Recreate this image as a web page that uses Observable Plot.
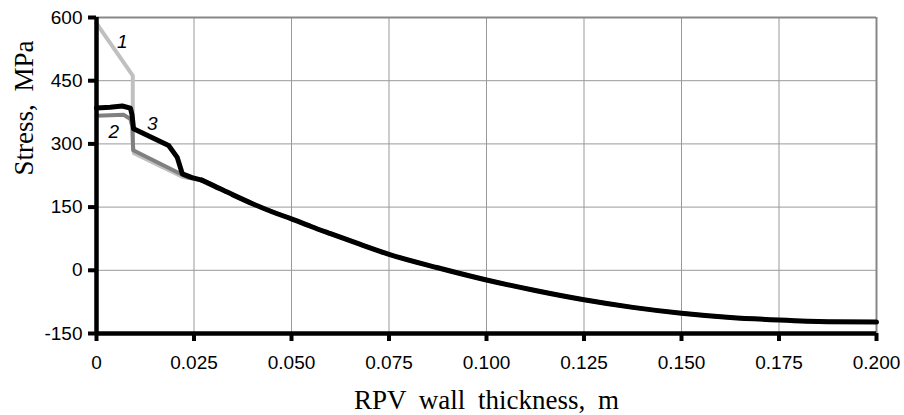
<!DOCTYPE html>
<html>
<head>
<meta charset="utf-8">
<script src="https://cdn.jsdelivr.net/npm/d3@7"></script>
<script src="https://cdn.jsdelivr.net/npm/@observablehq/plot@0.6"></script>
<style>
  html, body { margin: 0; padding: 0; background: #fff; }
  svg text { word-spacing: 6px; }
</style>
</head>
<body>
<div id="chart"></div>
<script>
// ---- Data ----
const xTicks = [0, 0.025, 0.05, 0.075, 0.1, 0.125, 0.15, 0.175, 0.2];
const yTicks = [-150, 0, 150, 300, 450, 600];

// shared smooth tail of all three curves
const tailX = [0.027, 0.030, 0.035, 0.040, 0.045, 0.050, 0.055, 0.060, 0.0675, 0.075, 0.0875, 0.100, 0.1125, 0.125, 0.1375, 0.150, 0.1625, 0.175, 0.1875, 0.200];
const tailY = [214, 201, 179, 158, 139, 122, 104, 87, 62, 38, 6, -23, -48, -70, -88, -102, -112, -118, -122, -123];

// curve 1 (light gray)
const head1X = [0, 0.0093, 0.0093, 0.0096, 0.022, 0.0245];
const head1Y = [586, 462, 300, 278, 222, 218];
// curve 2 (mid gray)
const head2X = [0, 0.007, 0.0087, 0.0092, 0.0094, 0.0215, 0.0233];
const head2Y = [367, 369, 359, 340, 285, 229, 221];
// curve 3 (black)
const head3X = [0, 0.0035, 0.0066, 0.0087, 0.0091, 0.0095, 0.0185, 0.0207, 0.022, 0.0245];
const head3Y = [385, 387, 390, 385, 370, 336, 296, 268, 229, 220];

const curveNames = ["1", "2", "3"];
const labelX = [0.0066, 0.0044, 0.0143];
const labelY = [541, 328, 347];

const xLabel = "RPV wall thickness, m";
const yLabel = "Stress, MPa";

// ---- build tables ----
const tail = tailX.map((x, i) => ({x, y: tailY[i]}));
function head(hx, hy) {
  return hx.map((x, i) => ({x, y: hy[i]})).concat([tail[0]]);
}
const h1 = head(head1X, head1Y);
const h2 = head(head2X, head2Y);
const h3 = head(head3X, head3Y);
const labels = curveNames.map((t, i) => ({t, x: labelX[i], y: labelY[i]}));

const serif = "'Liberation Serif', 'Times New Roman', serif";
const styles = [
  {stroke: "#c0c0c0", strokeWidth: 4},
  {stroke: "#808080", strokeWidth: 4},
  {stroke: "#000", strokeWidth: 5}
];
const heads = [h1, h2, h3];
const curveMarks = [];
heads.forEach((h, i) => {
  curveMarks.push(Plot.line(h, {x: "x", y: "y", ...styles[i], strokeLinejoin: "round", strokeLinecap: "round"}));
  curveMarks.push(Plot.line(tail, {x: "x", y: "y", ...styles[i], curve: "monotone-x", strokeLinecap: "round"}));
});

const chart = Plot.plot({
  width: 904,
  height: 415,
  marginLeft: 96,
  marginRight: 28,
  marginTop: 17,
  marginBottom: 82,
  style: {fontFamily: "'Liberation Sans', Arial, sans-serif", fontSize: "19px", background: "#fff", overflow: "visible"},
  x: {domain: [0, 0.2]},
  y: {domain: [-150, 600]},
  marks: [
    Plot.gridX(xTicks, {stroke: "#999", strokeOpacity: 1, strokeWidth: 1}),
    Plot.gridY(yTicks, {stroke: "#999", strokeOpacity: 1, strokeWidth: 1}),
    Plot.ruleY([600], {stroke: "#888", strokeWidth: 2}),
    Plot.ruleX([0.2], {stroke: "#888", strokeWidth: 2}),
    ...curveMarks,
    Plot.ruleX([0], {stroke: "#000", strokeWidth: 4.5}),
    Plot.ruleY([-150], {stroke: "#000", strokeWidth: 4.5}),
    Plot.axisX(xTicks, {anchor: "bottom", tickSize: 8, tickPadding: 14, strokeWidth: 4, label: null,
      tickFormat: d => d === 0 ? "0" : d.toFixed(3)}),
    Plot.axisY(yTicks, {anchor: "left", tickSize: 8, tickPadding: 6, strokeWidth: 4, label: null,
      tickFormat: d => String(d)}),
    Plot.text(labels, {x: "x", y: "y", text: "t", fontStyle: "italic", fontSize: 19}),
    Plot.text([xLabel], {frameAnchor: "bottom", lineAnchor: "bottom", dy: 75, fontFamily: serif, fontSize: 27}),
    Plot.text([yLabel], {frameAnchor: "left", lineAnchor: "bottom", rotate: -90, dx: -64, fontFamily: serif, fontSize: 27})
  ]
});
document.getElementById("chart").appendChild(chart);
</script>
</body>
</html>
